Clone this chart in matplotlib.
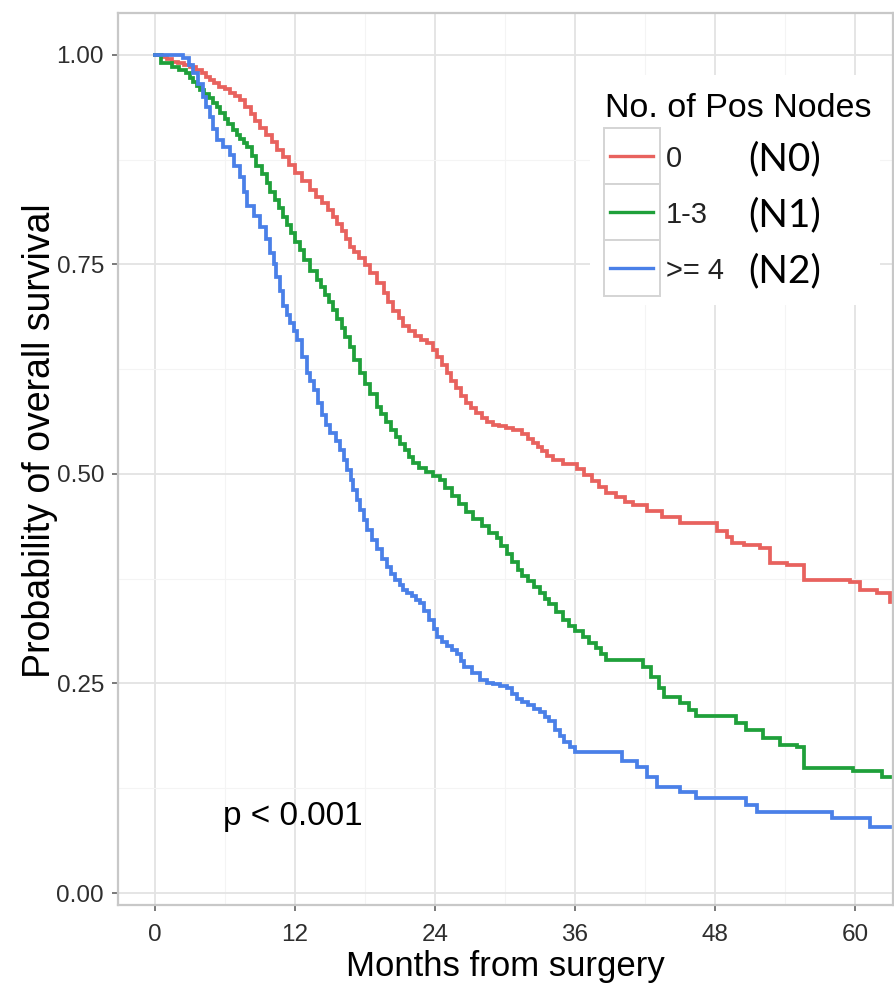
import matplotlib
matplotlib.use("Agg")
import matplotlib.pyplot as plt
from matplotlib.patches import Rectangle
from matplotlib.lines import Line2D
from matplotlib.ticker import MultipleLocator

# Kaplan-Meier estimates of overall survival by number of positive nodes
groups = ["0", "1-3", ">= 4"]
stage_tags = ["(N0)", "(N1)", "(N2)"]
colors = ["#E8625E", "#1FA03A", "#4A80E8"]

n0_months = [0, 0.6, 1.0, 1.5, 2.0, 2.5, 3.0, 3.5, 4.0, 4.4, 4.7, 5.1, 5.5, 6.0,
             6.4, 6.9, 7.3, 7.7, 8.2, 8.6, 9.0, 9.5, 10.0, 10.5, 11.0, 11.5, 12.0,
             12.6, 13.3, 13.8, 14.3, 14.8, 15.3, 15.6, 16.0, 16.4, 16.7, 17.1, 17.5,
             18.0, 18.4, 19.0, 19.6, 20.0, 20.4, 20.9, 21.3, 21.8, 22.3, 22.8, 23.3,
             23.8, 24.2, 24.6, 25.0, 25.4, 25.8, 26.2, 26.7, 27.1, 27.5, 28.0, 28.5,
             29.0, 29.5, 30.1, 30.7, 31.5, 32.0, 32.4, 32.8, 33.2, 33.6, 34.1, 35.0,
             36.2, 36.8, 37.5, 38.1, 38.7, 39.5, 40.3, 41.0, 42.2, 43.5, 45.0, 48.2,
             49.0, 49.5, 50.5, 51.9, 52.7, 54.2, 55.6, 59.6, 60.4, 61.9, 63.0]
n0_surv = [1.000, 0.997, 0.995, 0.992, 0.990, 0.988, 0.985, 0.982, 0.978, 0.974,
           0.970, 0.966, 0.962, 0.959, 0.955, 0.951, 0.946, 0.938, 0.930, 0.921,
           0.913, 0.905, 0.896, 0.887, 0.878, 0.869, 0.859, 0.850, 0.839, 0.831,
           0.823, 0.815, 0.807, 0.798, 0.790, 0.780, 0.771, 0.765, 0.758, 0.749,
           0.740, 0.728, 0.716, 0.705, 0.695, 0.686, 0.677, 0.671, 0.665, 0.660,
           0.656, 0.648, 0.640, 0.630, 0.620, 0.611, 0.602, 0.593, 0.585, 0.579,
           0.573, 0.567, 0.562, 0.559, 0.557, 0.555, 0.553, 0.548, 0.542, 0.537,
           0.532, 0.527, 0.522, 0.517, 0.512, 0.506, 0.499, 0.492, 0.484, 0.477,
           0.472, 0.467, 0.463, 0.456, 0.449, 0.442, 0.432, 0.425, 0.418, 0.415,
           0.412, 0.394, 0.391, 0.374, 0.371, 0.362, 0.358, 0.347]

n1_months = [0, 0.5, 1.5, 2.1, 2.7, 3.0, 3.3, 3.6, 3.9, 4.2, 4.6, 5.0, 5.3, 5.6,
             6.0, 6.3, 6.7, 7.0, 7.3, 7.6, 7.9, 8.3, 8.7, 9.2, 9.6, 9.9, 10.3, 10.6,
             11.0, 11.3, 11.7, 12.0, 12.4, 12.8, 13.3, 13.9, 14.2, 14.6, 14.9, 15.3,
             15.6, 16.0, 16.3, 16.7, 17.1, 17.6, 18.0, 18.4, 19.0, 19.4, 19.8, 20.2,
             20.7, 21.0, 21.4, 21.8, 22.1, 22.6, 23.2, 23.8, 24.4, 24.9, 25.5, 26.1,
             26.7, 27.3, 28.0, 28.6, 29.3, 29.7, 30.2, 30.6, 31.1, 31.5, 32.0, 32.5,
             33.0, 33.4, 33.8, 34.4, 35.0, 35.5, 36.0, 36.7, 37.2, 37.8, 38.2, 38.7,
             41.8, 42.5, 43.2, 43.6, 45.0, 45.8, 46.4, 49.8, 50.7, 52.1, 53.6, 55.0,
             55.6, 59.8, 62.3, 63.0]
n1_surv = [1.000, 0.990, 0.985, 0.982, 0.979, 0.973, 0.968, 0.963, 0.958, 0.953,
           0.948, 0.943, 0.938, 0.931, 0.924, 0.917, 0.910, 0.905, 0.900, 0.895,
           0.890, 0.879, 0.868, 0.858, 0.847, 0.837, 0.827, 0.817, 0.807, 0.797,
           0.787, 0.777, 0.767, 0.755, 0.742, 0.732, 0.723, 0.714, 0.705, 0.696,
           0.685, 0.674, 0.663, 0.652, 0.636, 0.620, 0.607, 0.595, 0.580, 0.571,
           0.562, 0.553, 0.544, 0.536, 0.528, 0.520, 0.513, 0.507, 0.502, 0.498,
           0.493, 0.483, 0.474, 0.464, 0.455, 0.446, 0.438, 0.430, 0.423, 0.414,
           0.405, 0.395, 0.385, 0.378, 0.372, 0.365, 0.358, 0.351, 0.345, 0.335,
           0.326, 0.319, 0.313, 0.305, 0.298, 0.292, 0.285, 0.278, 0.270, 0.258,
           0.245, 0.234, 0.227, 0.218, 0.211, 0.203, 0.195, 0.185, 0.177, 0.174,
           0.149, 0.145, 0.138, 0.138]

n2_months = [0, 2.4, 2.9, 3.3, 3.7, 4.1, 4.4, 4.7, 5.0, 5.3, 5.8, 6.4, 6.8, 7.3,
             7.6, 7.9, 8.5, 9.0, 9.5, 9.9, 10.2, 10.4, 10.7, 11.0, 11.3, 11.6, 11.9,
             12.2, 12.6, 13.0, 13.3, 13.6, 14.0, 14.3, 14.7, 15.0, 15.5, 15.9, 16.2,
             16.5, 16.8, 17.0, 17.3, 17.6, 17.9, 18.2, 18.6, 19.0, 19.5, 19.9, 20.2,
             20.6, 21.0, 21.3, 21.6, 22.0, 22.4, 22.7, 23.1, 23.5, 23.9, 24.2, 24.6,
             25.0, 25.5, 25.9, 26.2, 26.5, 27.2, 27.9, 28.5, 29.0, 29.6, 30.2, 30.6,
             31.0, 31.5, 32.0, 32.5, 33.0, 33.4, 33.8, 34.3, 34.7, 35.1, 35.6, 36.0,
             40.0, 41.3, 42.2, 43.0, 45.0, 46.4, 50.7, 51.6, 58.0, 61.3, 63.0]
n2_surv = [1.000, 0.996, 0.988, 0.978, 0.965, 0.950, 0.938, 0.926, 0.912, 0.899,
           0.890, 0.881, 0.868, 0.854, 0.837, 0.820, 0.808, 0.795, 0.780, 0.764,
           0.750, 0.735, 0.718, 0.700, 0.690, 0.680, 0.670, 0.660, 0.640, 0.621,
           0.611, 0.600, 0.585, 0.570, 0.559, 0.549, 0.539, 0.529, 0.517, 0.505,
           0.493, 0.481, 0.469, 0.457, 0.445, 0.433, 0.421, 0.410, 0.399, 0.389,
           0.381, 0.374, 0.368, 0.362, 0.358, 0.354, 0.350, 0.346, 0.336, 0.326,
           0.315, 0.305, 0.300, 0.295, 0.290, 0.285, 0.277, 0.270, 0.262, 0.254,
           0.251, 0.249, 0.247, 0.245, 0.238, 0.232, 0.228, 0.224, 0.220, 0.216,
           0.210, 0.205, 0.195, 0.187, 0.180, 0.174, 0.168, 0.158, 0.150, 0.139,
           0.127, 0.120, 0.113, 0.105, 0.097, 0.089, 0.079, 0.079]

x_ticks = [0, 12, 24, 36, 48, 60]
y_ticks = [0.00, 0.25, 0.50, 0.75, 1.00]
y_tick_labels = ["0.00", "0.25", "0.50", "0.75", "1.00"]

W, H = 895, 994
fig = plt.figure(figsize=(W / 100, H / 100), dpi=100)
fig.patch.set_facecolor("white")

def fx(px):
    return px / W

def fy(py):
    return 1 - py / H

ax = fig.add_axes([fx(118), fy(905), fx(893) - fx(118), fy(13) - fy(905)])
ax.set_facecolor("white")

series = [(n0_months, n0_surv), (n1_months, n1_surv), (n2_months, n2_surv)]
for (t, s), c in zip(series, colors):
    ax.step(t, s, where="post", color=c, lw=2.7, solid_joinstyle="miter", zorder=3)

ax.set_xlim(-3.17, 63.26)
ax.set_ylim(-0.0143, 1.050)
ax.set_xticks(x_ticks)
ax.set_yticks(y_ticks)
ax.set_yticklabels(y_tick_labels)
ax.xaxis.set_minor_locator(MultipleLocator(6))
ax.yaxis.set_minor_locator(MultipleLocator(0.125))

ax.grid(True, which="major", color="#E3E3E3", lw=1.3, zorder=0)
ax.grid(True, which="minor", color="#F4F4F4", lw=0.8, zorder=0)
ax.set_axisbelow(True)

for sp in ax.spines.values():
    sp.set_color("#C8C8C8")
    sp.set_linewidth(1.6)

base_font = ["Liberation Sans", "DejaVu Sans"]
ax.tick_params(axis="both", which="major", length=4, width=1.1, color="#555555",
               labelsize=17.5, labelcolor="#2E2E2E")
ax.tick_params(axis="x", which="major", pad=10)
ax.tick_params(axis="y", which="major", pad=6)
ax.tick_params(axis="both", which="minor", length=0)
for lab in ax.get_xticklabels() + ax.get_yticklabels():
    lab.set_family(base_font)

ax.set_xlabel("Months from surgery", fontsize=25, family=base_font, color="black")
ax.set_ylabel("Probability of overall survival", fontsize=27, family=base_font,
              color="black")
ax.xaxis.set_label_coords(0.5, -0.050)
ax.yaxis.set_label_coords(-0.078, 0.52)

ax.text(5.83, 0.081, "p < 0.001", fontsize=24, family=base_font, color="black",
        ha="left", va="baseline", zorder=4)

# Legend panel (white background hides the grid behind it)
fig.add_artist(Rectangle((fx(590), fy(305)), fx(880) - fx(590), fy(75) - fy(305),
                         transform=fig.transFigure, facecolor="white",
                         edgecolor="none", zorder=5))
fig.text(fx(605), fy(117), "No. of Pos Nodes", fontsize=24.5, family=base_font,
         ha="left", va="baseline", color="black", zorder=6)

key_top = 128
key_h = 56
for i, (g, tag, c) in enumerate(zip(groups, stage_tags, colors)):
    top = key_top + i * key_h
    cy = top + key_h / 2
    fig.add_artist(Rectangle((fx(604), fy(top + key_h)), fx(660) - fx(604),
                             fy(top) - fy(top + key_h), transform=fig.transFigure,
                             facecolor="white", edgecolor="#D4D4D4", lw=1.4,
                             zorder=6))
    fig.add_artist(Line2D([fx(610), fx(653)], [fy(cy), fy(cy)],
                          transform=fig.transFigure, color=c, lw=2.4, zorder=7))
    fig.text(fx(666), fy(cy), g, fontsize=21, family=base_font, ha="left",
             va="center_baseline", color="#222222", zorder=7)
    fig.text(fx(748), fy(cy), tag, fontsize=28, family=["Lato", "DejaVu Sans"],
             ha="left", va="center_baseline", color="black", zorder=7)

fig.savefig("out.png", dpi=100, facecolor="white")
